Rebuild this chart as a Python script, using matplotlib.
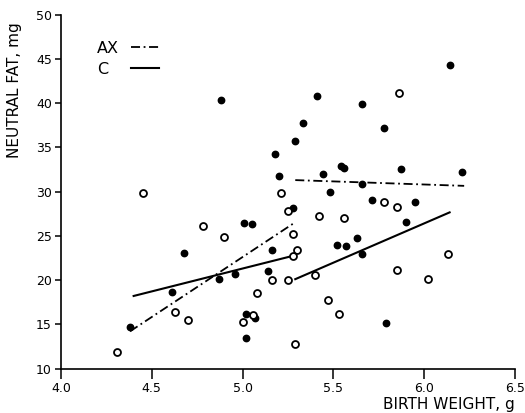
import numpy as np
import matplotlib
matplotlib.use('Agg')
import matplotlib.pyplot as plt
from matplotlib.lines import Line2D

# ── data ─────────────────────────────────────────────────────────────────────
# filled circles
filled_x = [4.38, 4.68, 4.61, 4.88, 5.33, 5.29, 5.18, 5.20, 5.28, 5.01,
            5.05, 5.16, 4.87, 4.96, 5.14, 5.02, 5.07, 5.02, 5.41, 5.66,
            5.78, 5.54, 5.56, 5.44, 5.87, 5.48, 5.66, 5.71, 5.90, 5.95,
            5.52, 5.57, 5.63, 5.66, 5.79, 6.14, 6.21]
filled_y = [14.7, 23.1, 18.6, 40.3, 37.8, 35.7, 34.2, 31.8, 28.1, 26.5,
            26.3, 23.4, 20.1, 20.7, 21.0, 16.2, 15.7, 13.5, 40.8, 39.9,
            37.2, 32.9, 32.7, 32.0, 32.5, 30.0, 30.9, 29.0, 26.6, 28.8,
            24.0, 23.8, 24.7, 22.9, 15.1, 44.3, 32.2]

# open circles
open_x = [4.45, 4.63, 4.70, 4.31, 5.21, 5.25, 4.78, 4.90, 5.28, 5.30,
          5.28, 5.16, 5.25, 5.08, 5.06, 5.00, 5.29, 5.86, 5.78, 5.85,
          5.42, 5.56, 5.40, 5.85, 5.47, 5.53, 6.13, 6.02]
open_y = [29.8, 16.4, 15.5, 11.9, 29.8, 27.8, 26.1, 24.9, 25.2, 23.4,
          22.7, 20.0, 20.0, 18.5, 16.0, 15.3, 12.8, 41.2, 28.8, 28.3,
          27.2, 27.0, 20.6, 21.1, 17.8, 16.2, 22.9, 20.1]

# regression lines (end points)
ax_lines = [([4.38, 5.28], [14.2, 26.4]), ([5.29, 6.22], [31.3, 30.65])]
c_lines = [([4.40, 5.27], [18.2, 22.7]), ([5.29, 6.14], [20.1, 27.65])]

x_ticks = [4.0, 4.5, 5.0, 5.5, 6.0, 6.5]
y_ticks = [10, 15, 20, 25, 30, 35, 40, 45, 50]

AX_DASH = (0, (5, 2, 1, 2))

# ── figure ───────────────────────────────────────────────────────────────────
fig = plt.figure(figsize=(5.25, 4.13), dpi=100)
ax = fig.add_axes([61 / 525, 1 - 368.5 / 413, 454 / 525, 353.8 / 413])

for xs, ys in ax_lines:
    ax.plot(xs, ys, color='black', lw=1.3, linestyle=AX_DASH)
for xs, ys in c_lines:
    ax.plot(xs, ys, color='black', lw=1.5, linestyle='-')

ax.plot(filled_x, filled_y, 'o', color='black', ms=4.6, ls='none')
ax.plot(open_x, open_y, 'o', mfc='white', mec='black', mew=1.3, ms=5,
        ls='none')

ax.set_xlim(4.0, 6.5)
ax.set_ylim(10, 50)
ax.set_xticks(x_ticks)
ax.set_xticklabels([f'{v:.1f}' for v in x_ticks])
ax.set_yticks(y_ticks)
ax.tick_params(axis='x', direction='out', length=7, width=1.1, pad=3,
               labelsize=9)
ax.tick_params(axis='y', direction='out', length=4.5, width=1.1, pad=2,
               labelsize=9)

for s in ['top', 'right']:
    ax.spines[s].set_visible(False)
for s in ['left', 'bottom']:
    ax.spines[s].set_linewidth(1.2)

ax.set_xlabel('BIRTH WEIGHT, g', loc='right', fontsize=11, labelpad=1)
fig.text(15 / 525, 1 - 22 / 413, 'NEUTRAL FAT, mg', rotation=90,
         ha='center', va='top', fontsize=11)

handles = [Line2D([], [], color='black', lw=1.3, linestyle=AX_DASH),
           Line2D([], [], color='black', lw=1.5)]
leg = ax.legend(handles, ['AX', 'C'], loc='upper left',
                bbox_to_anchor=(0.08, 0.927), frameon=False,
                markerfirst=False, fontsize=11.5, handlelength=1.75,
                handletextpad=0.75, labelspacing=0.4, borderpad=0,
                borderaxespad=0)

# labels left-aligned, lines lined up (pad the shorter label's gap)
col = leg._legend_handle_box.get_children()[0]
col.align = 'left'
rows = col.get_children()
fig.canvas.draw()
rend = fig.canvas.get_renderer()
widths = [r.get_children()[0].get_window_extent(rend).width for r in rows]
for r, w in zip(rows, widths):
    r.sep += (max(widths) - w) * 72 / fig.dpi

fig.savefig('out.png', dpi=100)
